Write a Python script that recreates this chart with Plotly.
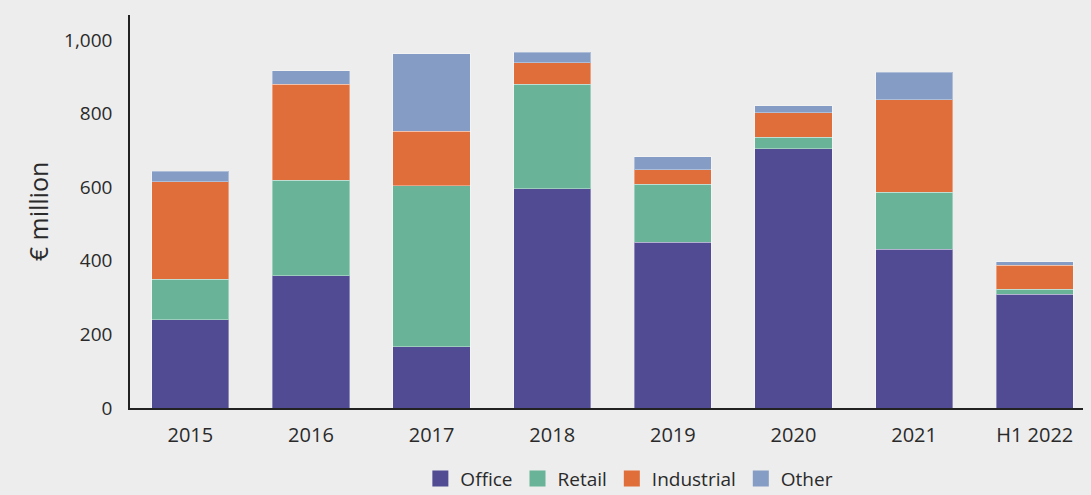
import plotly.graph_objects as go

categories = ["2015", "2016", "2017", "2018", "2019", "2020", "2021", "H1 2022"]
office = [240, 360, 167, 596, 451, 705, 432, 309]
retail = [110, 259, 437, 284, 157, 31, 154, 14]
industrial = [265, 261, 148, 58, 40, 66, 252, 65]
other = [28, 36, 211, 29, 35, 19, 75, 10]

series = [
    ("Office", office, "#514B94"),
    ("Retail", retail, "#69B398"),
    ("Industrial", industrial, "#E06E3B"),
    ("Other", other, "#859CC4"),
]

fig = go.Figure()
for name, vals, color in series:
    fig.add_trace(go.Bar(
        name=name, x=categories, y=vals, showlegend=False,
        marker=dict(color=color, line=dict(color="rgba(255,255,255,0.35)", width=1)),
    ))
# legend entries with larger square swatches
for name, vals, color in series:
    fig.add_trace(go.Scatter(
        name=name, x=[None], y=[None], mode="markers",
        marker=dict(symbol="square", size=17, color=color),
        showlegend=True,
    ))

bg = "#EDEDED"
fig.update_layout(
    barmode="stack",
    bargap=0.36,
    width=1091, height=495,
    paper_bgcolor=bg, plot_bgcolor=bg,
    margin=dict(l=130, r=8, t=15, b=87, autoexpand=False),
    font=dict(family="Open Sans, Noto Sans, sans-serif", size=20, color="#2a2a2a"),
    showlegend=True,
    legend=dict(orientation="h", x=0.524, xanchor="center", y=-0.18, yanchor="middle",
                font=dict(size=19, color="#2a2a2a"), traceorder="normal",
                itemwidth=30, bgcolor="rgba(0,0,0,0)"),
    xaxis=dict(range=[-0.5, 7.4], showline=True, linecolor="#222222", linewidth=1.5,
               ticks="", showgrid=False, tickfont=dict(size=20), ticklabelstandoff=8),
    yaxis=dict(range=[0, 1068], tickvals=[0, 200, 400, 600, 800, 1000],
               tickformat=",", showline=True, linecolor="#222222", linewidth=1.5,
               ticks="", showgrid=False, zeroline=False, tickfont=dict(size=19),
               ticklabelstandoff=12,
               title=dict(text="€ million", font=dict(size=25), standoff=8)),
)

fig.write_html("out.html", config={"displayModeBar": False},
               post_script="document.body.style.margin='0px';document.body.style.background='#EDEDED';")
